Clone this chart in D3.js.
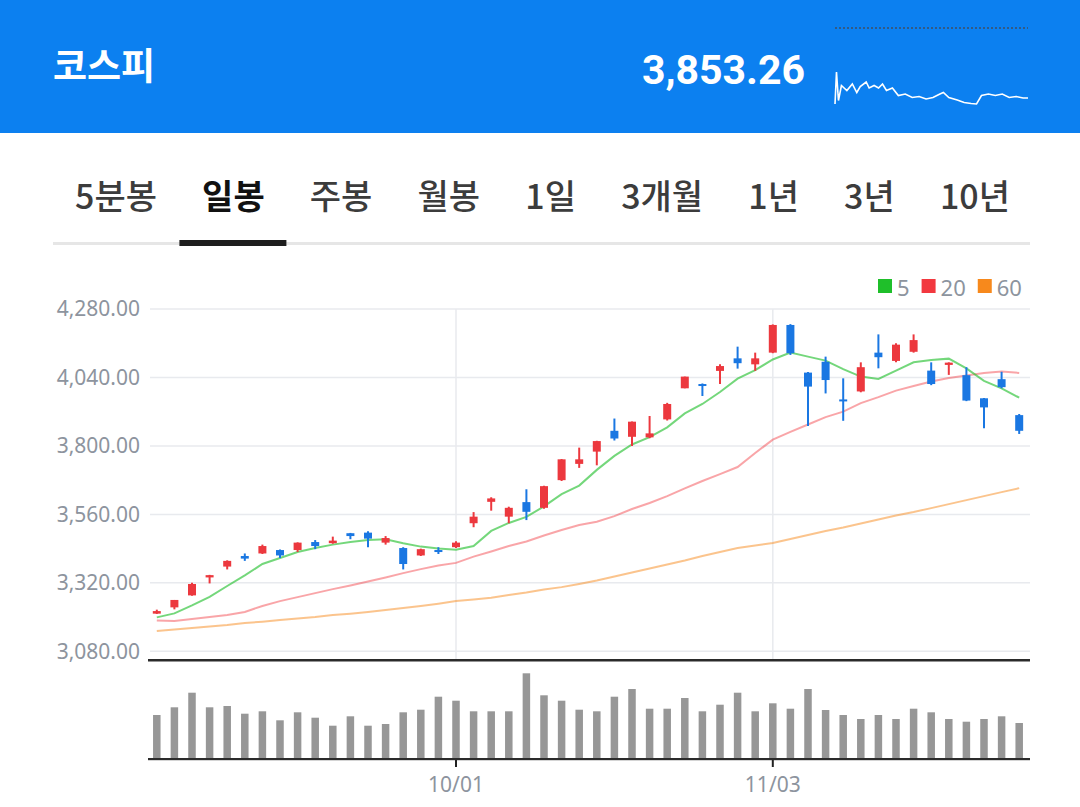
<!DOCTYPE html>
<html>
<head>
<meta charset="utf-8">
<script src="https://cdn.jsdelivr.net/npm/d3@7"></script>
<style>
  body { margin: 0; background: #fff; }
  svg { display: block; }
</style>
</head>
<body>
<svg id="chart" width="1080" height="807"></svg>
<script>
// ---- data ----
const indexName = '코스피'
const lastPrice = 3853.26

const dates = ['09/08','09/09','09/10','09/11','09/12','09/15','09/16','09/17','09/18','09/19',
  '09/22','09/23','09/24','09/25','09/26','09/29','09/30','10/01','10/02','10/10',
  '10/13','10/14','10/15','10/16','10/17','10/20','10/21','10/22','10/23','10/24',
  '10/27','10/28','10/29','10/30','10/31','11/03','11/04','11/05','11/06','11/07',
  '11/10','11/11','11/12','11/13','11/14','11/17','11/18','11/19','11/20','11/21']

const opens  = [3212,3234,3276,3339,3377,3414,3423,3435,3435,3463,3459,3494,3496,3461,3442,3416,3435,3445,3529,3604,
  3552,3603,3583,3680,3737,3780,3853,3832,3830,3893,4002,4017,4063,4107,4086,4127,4224,4057,4095,3963,
  3991,4127,4098,4130,4064,4084,4048,3967,4034,3908]
const highs  = [3226,3260,3320,3348,3399,3423,3454,3437,3462,3470,3482,3495,3501,3484,3445,3440,3445,3466,3568,3620,
  3587,3648,3660,3754,3794,3818,3896,3886,3905,3951,4043,4019,4086,4148,4127,4226,4227,4059,4113,4037,
  4093,4191,4160,4191,4093,4093,4076,3968,4060,3912]
const lows   = [3211,3227,3275,3318,3367,3397,3421,3407,3428,3438,3457,3473,3445,3454,3367,3414,3421,3442,3515,3573,
  3529,3540,3580,3677,3723,3732,3819,3800,3827,3889,4002,3975,4017,4071,4063,4125,4119,3870,3984,3888,
  3988,4072,4093,4127,4013,4049,3957,3862,4002,3842]
const closes = [3221,3260,3316,3347,3397,3405,3449,3416,3461,3449,3468,3484,3475,3477,3386,3438,3428,3461,3552,3616,
  3583,3569,3659,3753,3753,3817,3826,3885,3844,3947,4043,4010,4080,4090,4107,4224,4125,4008,4031,3958,
  4076,4111,4155,4171,4017,4092,3959,3935,4006,3853]

const volumes = [440,517,663,517,530,453,477,387,467,413,333,427,333,350,467,493,623,583,477,477,
  477,857,637,583,493,477,623,700,503,503,610,477,543,663,477,557,503,700,490,440,
  400,440,400,503,467,400,373,400,427,360]

const ma5  = [3199,3213,3241,3271,3309,3346,3386,3407,3428,3442,3454,3463,3470,3473,3459,3447,3440,3436,3449,3502,
  3530,3551,3588,3631,3661,3716,3765,3805,3831,3865,3914,3947,3989,4036,4066,4103,4127,4113,4099,4069,
  4043,4035,4064,4093,4101,4106,4072,4028,4002,3969]
const ma20 = [3188,3186,3193,3200,3207,3218,3239,3256,3270,3284,3298,3311,3325,3339,3354,3368,3381,3390,3412,3430,
  3449,3465,3486,3505,3523,3534,3554,3579,3600,3624,3651,3677,3701,3726,3775,3822,3849,3875,3901,3920,
  3950,3971,3994,4010,4026,4038,4047,4056,4061,4056]
const ma60 = [3151,3156,3162,3167,3172,3179,3184,3190,3195,3200,3207,3212,3218,3225,3232,3239,3247,3256,3262,3268,
  3277,3286,3297,3305,3316,3328,3342,3356,3370,3384,3398,3414,3428,3442,3451,3460,3474,3488,3502,3514,
  3528,3542,3556,3568,3582,3596,3610,3624,3638,3652]

const yTicks = [3080, 3320, 3560, 3800, 4040, 4280]
const xTicks = ['10/01', '11/03']
const tabs = ['5분봉', '일봉', '주봉', '월봉', '1일', '3개월', '1년', '3년', '10년']
const activeTab = '일봉'
const legendNames = ['5', '20', '60']

// intraday sparkline in the header
const sparkMinutes = [0,3,7,13,24,35,44,51,63,69,79,88,96,104,116,128,142,156,170,184,198,212,219,230,247,261,275,286,296,310,324,338,352,366,380,390]
const sparkValues  = [3836,3900,3843,3873,3863,3876,3859,3871,3880,3868,3873,3868,3876,3863,3868,3853,3856,3849,3851,3846,3849,3856,3859,3849,3844,3839,3837,3836,3853,3856,3853,3856,3849,3851,3848,3848]

// ---- drawing ----
const svg = d3.select('#chart')
const RED = '#ec383e'
const BLUE = '#1a77e2'
const lineColors = ['#1fbf2a', '#f2383f', '#f7891c']
const axisGray = '#8d949e'
const numFont = '"Noto Sans", Roboto, sans-serif'
const krFont = '"Noto Sans CJK KR", sans-serif'

// header
svg.append('rect').attr('x', 0).attr('y', 0).attr('width', 1080).attr('height', 133).attr('fill', '#0c80f0')

svg.append('text')
  .attr('x', 53).attr('y', 80)
  .attr('font-family', krFont).attr('font-weight', 700).attr('font-size', 37)
  .attr('fill', '#fff')
  .text(indexName)

svg.append('text')
  .attr('x', 805).attr('y', 84)
  .attr('text-anchor', 'end')
  .attr('font-family', 'Roboto, sans-serif').attr('font-weight', 700).attr('font-size', 41)
  .attr('fill', '#fff')
  .text(d3.format(',.2f')(lastPrice))

let sx = d3.scaleLinear().domain([0, 390]).range([835, 1028])
let sy = d3.scaleLinear().domain([3836, 3900]).range([104, 72])

svg.append('line')
  .attr('x1', 835).attr('x2', 1028).attr('y1', 28).attr('y2', 28)
  .attr('stroke', '#3f4f63').attr('stroke-width', 1.5).attr('stroke-dasharray', '2,2')

svg.append('path')
  .datum(sparkMinutes.map((m, i) => [m, sparkValues[i]]))
  .attr('fill', 'none').attr('stroke', '#fff').attr('stroke-width', 1.6)
  .attr('d', d3.line().x(d => sx(d[0])).y(d => sy(d[1])))

// tabs
let tabG = svg.append('g')
let tabTexts = tabG.selectAll('text')
  .data(tabs)
  .enter().append('text')
  .attr('y', 209)
  .attr('font-family', krFont)
  .attr('font-size', 34)
  .attr('font-weight', d => d === activeTab ? 700 : 500)
  .attr('fill', d => d === activeTab ? '#111' : '#3c3c3c')
  .text(d => d)

let widths = []
tabTexts.each(function () { widths.push(this.getComputedTextLength()) })
let gap = (1010 - 75 - d3.sum(widths)) / (tabs.length - 1)
let cursor = 75
let centers = []
tabTexts.attr('x', function (d, i) {
  let x = cursor
  centers.push(cursor + widths[i] / 2)
  cursor += widths[i] + gap
  return x
})

svg.append('rect').attr('x', 53).attr('y', 242).attr('width', 977).attr('height', 3).attr('fill', '#e6e6e6')
svg.append('rect')
  .attr('x', centers[tabs.indexOf(activeTab)] - 54).attr('y', 240)
  .attr('width', 107).attr('height', 6)
  .attr('fill', '#1e1e1e')

// legend
let lx = 878
legendNames.forEach((name, i) => {
  svg.append('rect').attr('x', lx).attr('y', 279).attr('width', 14).attr('height', 14).attr('fill', lineColors[i])
  let t = svg.append('text')
    .attr('x', lx + 19).attr('y', 296)
    .attr('font-family', numFont).attr('font-size', 22)
    .attr('fill', axisGray)
    .text(name)
  lx += 19 + t.node().getComputedTextLength() + 12
})

// scales
const left = 148, right = 1028
let x = d3.scaleBand().domain(dates).range([left, right]).padding(0)
let y = d3.scaleLinear().domain([3080, 4280]).range([651.3, 309])
let yVol = d3.scaleLinear().domain([0, 1000]).range([759, 659])
const cx = d => x(d) + x.bandwidth() / 2

// grid
svg.append('g').selectAll('line')
  .data(yTicks)
  .enter().append('line')
  .attr('x1', 150).attr('x2', 1030)
  .attr('y1', d => y(d)).attr('y2', d => y(d))
  .attr('stroke', '#e8eaee').attr('stroke-width', 1.5)

svg.append('g').selectAll('line')
  .data(xTicks)
  .enter().append('line')
  .attr('x1', d => cx(d)).attr('x2', d => cx(d))
  .attr('y1', y(4280)).attr('y2', 660)
  .attr('stroke', '#e8eaee').attr('stroke-width', 1.5)

// y axis labels
let yAxis = svg.append('g')
  .attr('transform', 'translate(150,0)')
  .call(d3.axisLeft(y).tickValues(yTicks).tickFormat(d3.format(',.2f')).tickSize(0).tickPadding(10))
yAxis.select('.domain').remove()
yAxis.selectAll('text')
  .attr('font-family', numFont).attr('font-size', 21)
  .attr('fill', axisGray)

// moving averages
const maLine = d3.line().x((d, i) => cx(dates[i])).y(d => y(d))
;[ma60, ma20, ma5].forEach((series, k) => {
  let idx = 2 - k
  svg.append('path')
    .datum(series)
    .attr('fill', 'none')
    .attr('stroke', lineColors[idx])
    .attr('stroke-opacity', [0.62, 0.45, 0.5][idx])
    .attr('stroke-width', 2)
    .attr('d', maLine)
})

// candles
let candles = svg.append('g').selectAll('g')
  .data(dates)
  .enter().append('g')

candles.append('line')
  .attr('x1', d => cx(d)).attr('x2', d => cx(d))
  .attr('y1', (d, i) => y(highs[i])).attr('y2', (d, i) => y(lows[i]))
  .attr('stroke', (d, i) => closes[i] >= opens[i] ? RED : BLUE)
  .attr('stroke-width', 2)

candles.append('rect')
  .attr('x', d => cx(d) - 4)
  .attr('width', 8)
  .attr('y', (d, i) => y(Math.max(opens[i], closes[i])))
  .attr('height', (d, i) => Math.max(2, Math.abs(y(opens[i]) - y(closes[i]))))
  .attr('fill', (d, i) => closes[i] >= opens[i] ? RED : BLUE)

// divider between price and volume
svg.append('rect').attr('x', 148).attr('y', 659).attr('width', 882).attr('height', 2.5).attr('fill', '#2b2b2b')

// volume bars
svg.append('g').selectAll('rect')
  .data(volumes)
  .enter().append('rect')
  .attr('x', (d, i) => cx(dates[i]) - 3.75)
  .attr('width', 7.5)
  .attr('y', d => yVol(d))
  .attr('height', d => yVol(0) - yVol(d))
  .attr('fill', '#979797')

// x axis
let xAxis = svg.append('g')
  .attr('transform', 'translate(0,759)')
  .call(d3.axisBottom(x).tickValues(xTicks).tickSize(8).tickPadding(10))
xAxis.select('.domain').remove()
xAxis.selectAll('.tick line').attr('stroke', '#222').attr('stroke-width', 2)
xAxis.selectAll('text')
  .attr('font-family', numFont).attr('font-size', 21)
  .attr('fill', axisGray)
svg.append('rect').attr('x', 148).attr('y', 758).attr('width', 882).attr('height', 2.2).attr('fill', '#2b2b2b')
</script>
</body>
</html>
